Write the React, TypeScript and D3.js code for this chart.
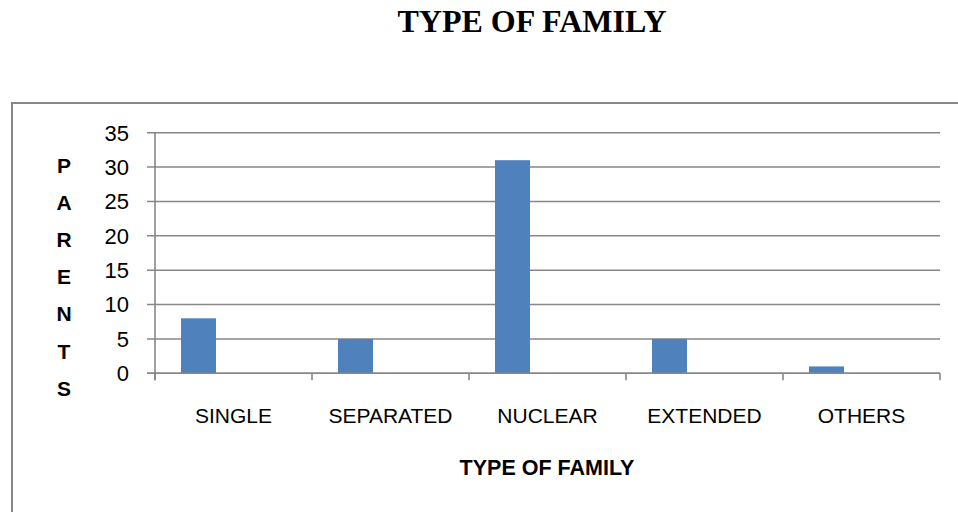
import React from "react";
import * as d3 from "d3";

const categories = ["SINGLE", "SEPARATED", "NUCLEAR", "EXTENDED", "OTHERS"];
const parents = [8, 5, 31, 5, 1];
const seriesSlots = ["Series1", "Series2", "Series3"];
const yTicks = [0, 5, 10, 15, 20, 25, 30, 35];
const yLabelLetters = ["P", "A", "R", "E", "N", "T", "S"];
const title = "TYPE OF FAMILY";
const xTitle = "TYPE OF FAMILY";

const W = 958;
const H = 512;
const plot = { left: 155, right: 940, top: 132.7, bottom: 373.3 };

export default function App() {
  const x = d3.scaleBand<string>().domain(categories).range([plot.left, plot.right]).padding(0);
  const inner = d3
    .scaleBand<string>()
    .domain(seriesSlots)
    .range([0, x.bandwidth()])
    .paddingInner(0)
    .paddingOuter(0.743);
  const y = d3.scaleLinear().domain([0, 35]).range([plot.bottom, plot.top]);
  const gridColor = "#878787";
  const sans = "'Liberation Sans', Arial, sans-serif";
  const boundaries = [...categories.map((c) => x(c) as number), plot.right];

  return (
    <svg width={W} height={H} style={{ position: "absolute", left: 0, top: 0, background: "#fff" }}>
      <rect x={0} y={0} width={W} height={H} fill="#fff" />
      <text
        x={532}
        y={32}
        textAnchor="middle"
        fontFamily="'Liberation Serif', 'Times New Roman', serif"
        fontWeight="bold"
        fontSize={32}
        fill="#000"
      >
        {title}
      </text>
      <rect x={12} y={103} width={980} height={450} fill="none" stroke="#878787" strokeWidth={2} />
      {yTicks.map((t) => (
        <g key={t}>
          <line x1={147} x2={plot.right} y1={y(t)} y2={y(t)} stroke={gridColor} strokeWidth={1.6} />
          <text
            x={129}
            y={y(t)}
            dy="0.36em"
            textAnchor="end"
            fontFamily={sans}
            fontSize={22}
            fill="#000"
          >
            {t}
          </text>
        </g>
      ))}
      <line x1={plot.left} x2={plot.left} y1={plot.top} y2={plot.bottom + 7} stroke={gridColor} strokeWidth={1.6} />
      {boundaries.map((b, i) => (
        <line key={i} x1={b} x2={b} y1={plot.bottom} y2={plot.bottom + 7} stroke={gridColor} strokeWidth={1.6} />
      ))}
      {categories.map((c, i) => (
        <rect
          key={c}
          x={(x(c) as number) + (inner("Series1") as number)}
          y={y(parents[i])}
          width={inner.bandwidth()}
          height={y(0) - y(parents[i])}
          fill="#4F81BD"
        />
      ))}
      <line x1={147} x2={plot.right} y1={y(0)} y2={y(0)} stroke={gridColor} strokeWidth={1.6} />
      {categories.map((c) => (
        <text
          key={c}
          x={(x(c) as number) + x.bandwidth() / 2}
          y={423}
          textAnchor="middle"
          fontFamily={sans}
          fontSize={21}
          fill="#000"
        >
          {c}
        </text>
      ))}
      <text x={547} y={475} textAnchor="middle" fontFamily={sans} fontWeight="bold" fontSize={21.5} fill="#000">
        {xTitle}
      </text>
      {yLabelLetters.map((l, i) => (
        <text
          key={i}
          x={64}
          y={165 + i * 37.2}
          dy="0.36em"
          textAnchor="middle"
          fontFamily={sans}
          fontWeight="bold"
          fontSize={21}
          fill="#000"
        >
          {l}
        </text>
      ))}
    </svg>
  );
}
